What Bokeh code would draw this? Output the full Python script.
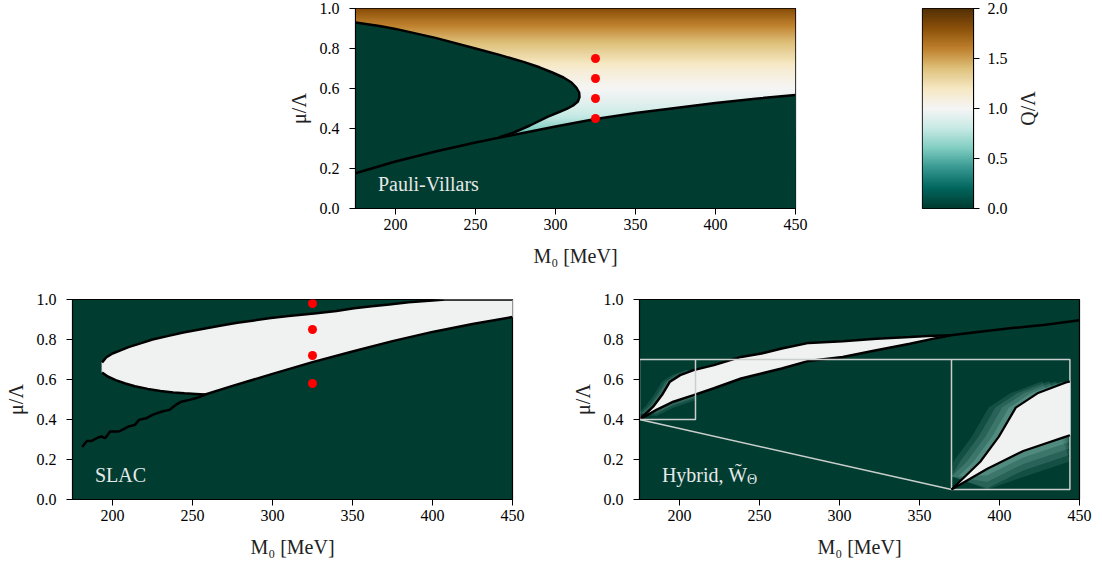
import numpy as np
from bokeh.plotting import figure
from bokeh.layouts import column, row
from bokeh.models import Label, LinearColorMapper, Range1d, FixedTicker, PrintfTickFormatter
from bokeh.core.properties import value
from bokeh.embed import file_html
from bokeh.resources import INLINE

# ---------------- data ----------------
X_TICKS = [200, 250, 300, 350, 400, 450]
Y_TICKS = [0.0, 0.2, 0.4, 0.6, 0.8, 1.0]
CB_TICKS = [0.0, 0.5, 1.0, 1.5, 2.0]

# BrBG (reversed): Q/Lambda = 0 -> dark teal, 1 -> white, 2 -> dark brown
BRBG_R = ["#003c30", "#01665e", "#35978f", "#80cdc1", "#c7eae5", "#f5f5f5",
          "#f6e8c3", "#dfc27d", "#bf812d", "#8c510a", "#543005"]

# Pauli-Villars panel
pv_lower_x = [175, 200, 225, 250, 275, 300, 325, 350, 375, 400, 425, 450]
pv_lower_y = [0.176, 0.235, 0.285, 0.33, 0.37, 0.41, 0.447, 0.477, 0.503, 0.527, 0.549, 0.568]
pv_c_x = [175, 190, 200, 225, 250, 265, 280, 290, 298, 305, 310, 313, 314.8, 315,
          314, 311, 307, 303, 295, 284, 274, 265]
pv_c_y = [0.93, 0.912, 0.898, 0.853, 0.80, 0.768, 0.733, 0.706, 0.68, 0.655, 0.63, 0.605, 0.58, 0.557,
          0.535, 0.515, 0.498, 0.485, 0.458, 0.415, 0.38, 0.356]
pv_q_mu = [0.0, 0.35, 0.40, 0.45, 0.50, 0.55, 0.60, 0.65, 0.70, 0.75, 0.80, 0.85, 0.90, 0.95, 1.0]
pv_q_val = [0.0, 0.45, 0.62, 0.77, 0.87, 0.94, 1.0, 1.07, 1.15, 1.25, 1.35, 1.45, 1.56, 1.68, 1.82]
pv_dots_x = [325, 325, 325, 325]
pv_dots_y = [0.45, 0.55, 0.65, 0.75]

# SLAC panel
slac_up_x = [193.5, 196, 200, 205, 210, 218, 225, 235, 245, 257, 268, 278, 290, 299, 310, 326, 340, 351, 362, 373, 385, 400, 408, 450]
slac_up_y = [0.685, 0.71, 0.73, 0.746, 0.762, 0.782, 0.80, 0.818, 0.836, 0.854, 0.87, 0.884, 0.897, 0.908, 0.918, 0.93, 0.943, 0.956, 0.966, 0.975, 0.986, 0.995, 1.0, 1.0]
slac_lowc_x = [193.5, 197, 202, 208, 214, 222, 230, 238, 245, 252, 258]
slac_lowc_y = [0.635, 0.615, 0.597, 0.58, 0.566, 0.553, 0.542, 0.535, 0.531, 0.528, 0.525]
slac_low_x = [181, 184, 187, 191, 193, 195.5, 198.5, 204, 207, 210, 214, 216.5, 221, 225, 231, 235.5, 239.5, 243, 248, 252, 258,
              275, 300, 325, 350, 375, 400, 425, 450]
slac_low_y = [0.262, 0.293, 0.293, 0.31, 0.315, 0.307, 0.34, 0.34, 0.352, 0.365, 0.373, 0.398, 0.406, 0.423, 0.44, 0.448, 0.473, 0.489, 0.498, 0.506, 0.525,
              0.568, 0.628, 0.687, 0.74, 0.792, 0.838, 0.877, 0.912]
slac_dots_x = [325, 325, 325, 325]
slac_dots_y = [0.58, 0.72, 0.85, 0.98]

# Hybrid panel
hy_up_x = [175, 179, 183.5, 189, 194, 200.4, 208.8, 221.5, 238.5, 251.2, 263.9, 280.8, 302, 323, 344, 355, 369.6]
hy_up_y = [0.40, 0.43, 0.464, 0.522, 0.589, 0.622, 0.647, 0.672, 0.713, 0.730, 0.755, 0.783, 0.791, 0.804, 0.813, 0.818, 0.821]
hy_lo_x = [175, 185.6, 196.2, 208.8, 221.5, 238.5, 251.2, 263.9, 280.8, 302, 323, 344, 361, 369.6]
hy_lo_y = [0.40, 0.448, 0.489, 0.522, 0.556, 0.605, 0.630, 0.655, 0.693, 0.713, 0.746, 0.779, 0.808, 0.821]
hy_tail_x = [369.6, 386.5, 407.7, 428.8, 450]
hy_tail_y = [0.821, 0.837, 0.857, 0.874, 0.896]

# ---------------- styling ----------------
FONT = "Liberation Serif"
DARK = BRBG_R[0]
LIGHT = "#f0f2f1"
GRAY = "#c9cfcc"
HALO = "#a6ddd4"


def make_palette(cols, n=256):
    rgb = np.array([[int(c[i:i + 2], 16) for i in (1, 3, 5)] for c in cols], float)
    t = np.linspace(0, 1, len(cols))
    tt = np.linspace(0, 1, n)
    chan = [np.interp(tt, t, rgb[:, k]) for k in range(3)]
    return ["#%02x%02x%02x" % (int(round(chan[0][i])), int(round(chan[1][i])), int(round(chan[2][i]))) for i in range(n)]


mapper = LinearColorMapper(palette=make_palette(BRBG_R), low=0, high=2)


def style_axes(p, xlabel, ylabel, xticks, yticks):
    p.grid.visible = False
    p.outline_line_color = "black"
    p.outline_line_width = 1.2
    p.outline_line_alpha = 1.0
    for ax in list(p.xaxis) + list(p.yaxis):
        ax.major_label_text_font = FONT
        ax.major_label_text_font_size = "16px"
        ax.major_label_text_color = "black"
        ax.axis_label_text_font = FONT
        ax.axis_label_text_font_size = "20px"
        ax.axis_label_text_font_style = "normal"
        ax.axis_label_text_color = "#222222"
        ax.major_tick_in = 0
        ax.major_tick_out = 6
        ax.major_tick_line_color = "black"
        ax.minor_tick_line_color = None
        ax.axis_line_color = "black"
    p.xaxis.major_label_standoff = 4
    p.yaxis.major_label_standoff = 10
    p.xaxis.ticker = FixedTicker(ticks=xticks)
    p.yaxis.ticker = FixedTicker(ticks=yticks)
    p.yaxis.formatter = PrintfTickFormatter(format="%.1f")
    p.xaxis.axis_label = xlabel
    p.yaxis.axis_label = ylabel
    p.xaxis.axis_label_standoff = 12
    p.yaxis.axis_label_standoff = 7


def panel(w, h, lb, rb, tb, bb):
    p = figure(width=w, height=h, x_range=Range1d(175, 450), y_range=Range1d(0, 1),
               min_border_left=lb, min_border_right=rb, min_border_top=tb, min_border_bottom=bb,
               output_backend="svg", toolbar_location=None)
    p.background_fill_color = DARK
    p.border_fill_color = "white"
    style_axes(p, "M\u2080 [MeV]", "\u03bc/\u039b", X_TICKS, Y_TICKS)
    return p


def tag(p, text, x=189, y=0.125, size="20px", **kw):
    p.add_layout(Label(x=x, y=y, text=text, text_font=FONT, text_font_size=size,
                       text_color="#e6e9e8", text_baseline="middle", **kw))


# ---------------- Pauli-Villars ----------------
p1 = panel(825, 270, 355, 30, 8, 62)
mu_grid = np.linspace(0, 1, 600)
q_grid = np.interp(mu_grid, pv_q_mu, pv_q_val)
p1.image(image=[np.repeat(q_grid[:, None], 2, axis=1)], x=175, y=0, dw=275, dh=1, color_mapper=mapper)
p1.patch(pv_lower_x + [450, 175], pv_lower_y + [0, 0], fill_color=DARK, line_color=DARK, line_width=1)
p1.patch(pv_c_x + [pv_lower_x[0]], pv_c_y + [pv_lower_y[0]], fill_color=DARK, line_color=DARK, line_width=1)
p1.line(pv_lower_x, pv_lower_y, line_color="black", line_width=2.5)
p1.line(pv_c_x, pv_c_y, line_color="black", line_width=2.5)
p1.scatter(pv_dots_x, pv_dots_y, size=9, color="red", line_color=None)
tag(p1, "Pauli-Villars")

# ---------------- colorbar ----------------
cb = figure(width=188, height=270, x_range=Range1d(0, 1), y_range=Range1d(0, 2),
            min_border_left=97, min_border_right=40, min_border_top=8, min_border_bottom=62,
            y_axis_location="right", output_backend="svg", toolbar_location=None)
cb_vals = np.linspace(0, 2, 600)
cb.image(image=[np.repeat(cb_vals[:, None], 2, axis=1)], x=0, y=0, dw=1, dh=2, color_mapper=mapper)
style_axes(cb, "", "", [], CB_TICKS)
cb.xaxis.visible = False
cb.yaxis.axis_label = None
cb.yaxis.major_label_standoff = 8

cbl = figure(width=40, height=270, x_range=Range1d(0, 1), y_range=Range1d(0, 1),
             min_border_left=0, min_border_right=0, min_border_top=8, min_border_bottom=62,
             x_axis_type=None, y_axis_type=None, output_backend="svg", toolbar_location=None)
cbl.outline_line_color = None
cbl.grid.visible = False
cbl.text(x=[0.35], y=[0.5], text=["Q/\u039b"], angle=np.pi / 2, text_align="center",
         text_baseline="middle", text_font=value(FONT), text_font_size="20px", text_color="#222222")

# ---------------- SLAC ----------------
p2 = panel(552, 290, 72, 40, 29, 60)
low2 = [(x, y) for x, y in zip(slac_low_x, slac_low_y) if x >= slac_lowc_x[-1]]
poly_x = slac_up_x + [x for x, _ in low2[::-1]] + slac_lowc_x[::-1]
poly_y = slac_up_y + [y for _, y in low2[::-1]] + slac_lowc_y[::-1]
p2.patch(poly_x, poly_y, fill_color=LIGHT, line_color=LIGHT, line_width=1)
p2.line(slac_up_x, slac_up_y, line_color="black", line_width=2.5)
p2.line(slac_lowc_x, slac_lowc_y, line_color="black", line_width=2.5)
p2.line(slac_low_x, slac_low_y, line_color="black", line_width=2.5)
p2.scatter(slac_dots_x, slac_dots_y, size=9, color="red", line_color=None)
tag(p2, "SLAC")

# ---------------- Hybrid ----------------
p3 = panel(547, 290, 87, 20, 29, 60)
zx0, zx1, zy0, zy1 = 175, 210, 0.40, 0.70      # zoomed region
ix0, ix1, iy0, iy1 = 370, 444, 0.05, 0.70      # inset placement


def clip(xs, ys, xmax):
    out_x = [x for x in xs if x < xmax] + [xmax]
    out_y = [y for x, y in zip(xs, ys) if x < xmax] + [float(np.interp(xmax, xs, ys))]
    return out_x, out_y


def to_inset(xs, ys):
    X = [min(max(ix0 + (x - zx0) / (zx1 - zx0) * (ix1 - ix0), ix0), ix1) for x in xs]
    Y = [min(max(iy0 + (y - zy0) / (zy1 - zy0) * (iy1 - iy0), iy0), iy1) for y in ys]
    return X, Y


cux, cuy = clip(hy_up_x, hy_up_y, zx1)
clx, cly = clip(hy_lo_x, hy_lo_y, zx1)

# soft fringe near the start of the band in the main panel
for dx, dy, a in [(5, 0.03, 0.12), (3, 0.018, 0.15), (1.5, 0.009, 0.2)]:
    p3.patch([x - dx for x in cux[1:]] + clx[::-1][:-1], cuy[1:] + [y - dy for y in cly[::-1][:-1]],
             fill_color=HALO, fill_alpha=a, line_color=None)
p3.patch(hy_up_x + hy_lo_x[::-1], hy_up_y + hy_lo_y[::-1], fill_color=LIGHT, line_color=LIGHT, line_width=1)
p3.line(hy_up_x, hy_up_y, line_color="black", line_width=2.5)
p3.line(hy_lo_x, hy_lo_y, line_color="black", line_width=2.5)
p3.line(hy_tail_x, hy_tail_y, line_color="black", line_width=2.5)

p3.line([zx1, ix0], [zy1, iy1], line_color=GRAY, line_width=1.5)
p3.line([zx0, ix0], [zy0, iy0], line_color=GRAY, line_width=1.5)
p3.quad(left=zx0, right=zx1, bottom=zy0, top=zy1, fill_color=None, line_color=GRAY, line_width=1.5)
p3.quad(left=ix0, right=ix1, bottom=iy0, top=iy1, fill_color=DARK, line_color=GRAY, line_width=1.5)

ux, uy = to_inset(cux, cuy)
lx, ly = to_inset(clx, cly)
for dx, dy, a in [(8, 0.06, 0.12), (6, 0.045, 0.14), (4, 0.03, 0.16), (2, 0.015, 0.2)]:
    hx, hy = to_inset([x - dx for x in cux[1:]] + clx[::-1][:-1], cuy[1:] + [y - dy for y in cly[::-1][:-1]])
    p3.patch(hx, hy, fill_color=HALO, fill_alpha=a, line_color=None)
p3.patch(ux + lx[::-1], uy + ly[::-1], fill_color=LIGHT, line_color=LIGHT, line_width=1)
p3.line(ux, uy, line_color="black", line_width=2.2)
p3.line(lx, ly, line_color="black", line_width=2.2)
tag(p3, "Hybrid, W\u0303")
tag(p3, "\u0398", size="14px", x_offset=85, y_offset=-5)

layout = column(row(p1, cb, cbl), row(p2, p3))
open("out.html", "w").write(file_html(layout, INLINE))
